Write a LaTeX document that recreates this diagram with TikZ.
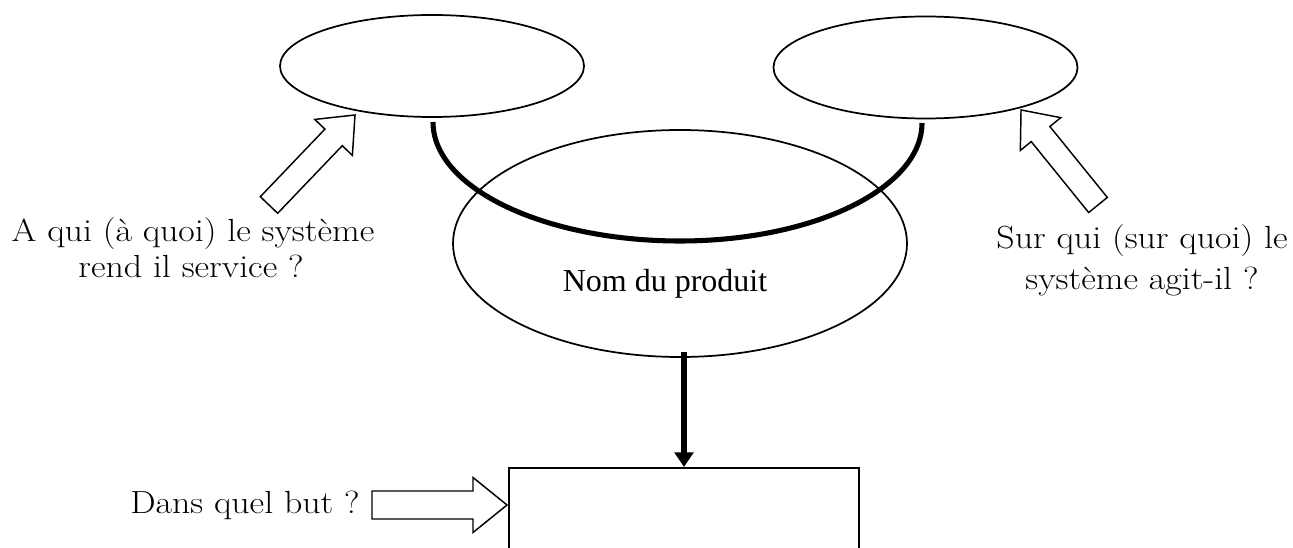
\documentclass[tikz,border=0pt]{standalone}
\usepackage{fontspec}
\newfontfamily\timesf{Liberation Serif}
\newfontfamily\widef[FakeStretch=1.12]{Latin Modern Roman}
\usetikzlibrary{shapes.geometric,arrows.meta}
\tikzset{
  oval/.style={draw, ellipse, line width=1.3pt, inner sep=0pt},
  lbl/.style={anchor=base, inner sep=0pt, font=\widef\fontsize{24}{28}\selectfont},
  blockarrow/.style={draw, line width=1.1pt, fill=white, line join=miter},
  thickcurve/.style={line width=3.8pt},
}
\newcommand{\blockarr}[6]{% tail, angle, length, half shaft, half head, head length
  \begin{scope}[shift={#1}, rotate=#2]
    \draw[blockarrow] (0,-#4) -- ({#3-#6},-#4) -- ({#3-#6},-#5) -- (#3,0)
      -- ({#3-#6},#5) -- ({#3-#6},#4) -- (0,#4) -- cycle;
  \end{scope}}
\begin{document}
\begin{tikzpicture}[x=0.75pt,y=-0.75pt]
\useasboundingbox (0,0) rectangle (1293,548);
\clip (0,0) rectangle (1293,548);
% ellipses
\node[oval, minimum width=228pt, minimum height=76.5pt] (L) at (432,66) {};
\node[oval, minimum width=228pt, minimum height=76.5pt] (R) at (925.5,67.5) {};
\node[oval, minimum width=340.5pt, minimum height=170.25pt] (M) at (680,243.5) {};
\node[anchor=base, inner sep=0pt, font=\timesf\fontsize{24}{28}\selectfont] (name) at (665,292) {Nom du produit};
% box
\node[draw, line width=1.3pt, minimum width=262.5pt, minimum height=90pt, anchor=north, inner sep=0pt] (B) at (684,467) {};
% thick curve
\coordinate (c1) at (433,122);
\coordinate (cb) at (680,241);
\coordinate (c2) at (922,123);
\draw[thickcurve] (c1) .. controls +(0,66) and +(-136,0) .. (cb);
\draw[thickcurve] (cb) .. controls +(134,0) and +(0,65) .. (c2);
% down arrow
\coordinate (a1) at (683,352);
\draw[line width=4.5pt, -{Triangle[width=14pt,length=11pt]}] (B.north |- a1) -- (B.north);
% block arrows
\blockarr{(269,205)}{46.3}{124.5}{12}{26}{31}
\blockarr{(1098,205)}{129}{122.3}{12}{26}{31}
\blockarr{(372,505)}{0}{135}{14}{27.5}{34}
% texts
\node[lbl] (t1a) at (193,242) {A qui (à quoi) le système};
\node[lbl] (t1b) at (191,278) {rend il service ?};
\node[lbl] (t2a) at (1142,249) {Sur qui (sur quoi) le};
\node[lbl] (t2b) at (1142,290) {système agit-il ?};
\node[lbl, anchor=base east] (t3) at (360,514) {Dans quel but ?};
\end{tikzpicture}
\end{document}
